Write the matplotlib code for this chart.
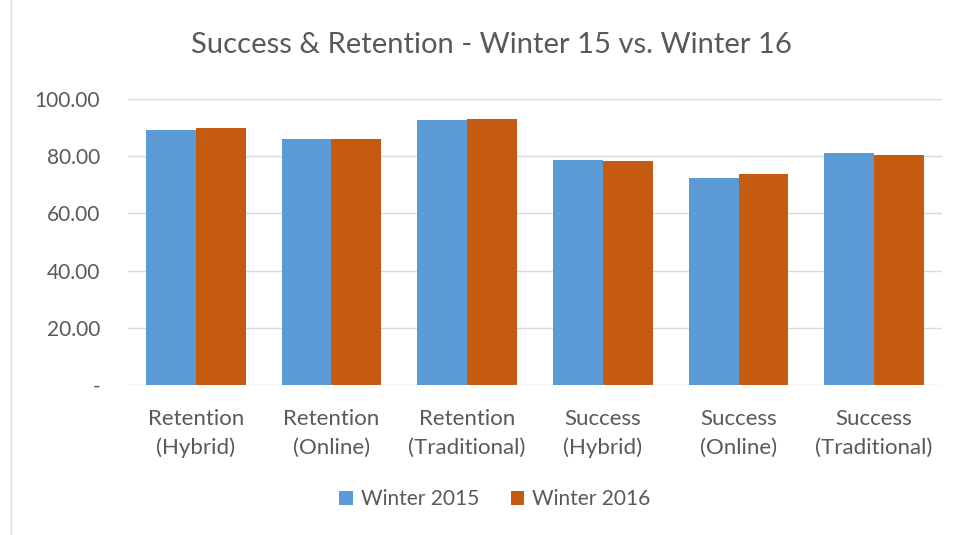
import numpy as np
import matplotlib.pyplot as plt
from matplotlib.patches import Rectangle

categories = ["Retention\n(Hybrid)", "Retention\n(Online)", "Retention\n(Traditional)",
              "Success\n(Hybrid)", "Success\n(Online)", "Success\n(Traditional)"]
winter_2015 = [89.2, 86.0, 92.7, 78.7, 72.4, 81.1]
winter_2016 = [89.9, 86.0, 93.0, 78.3, 73.8, 80.4]
y_ticks = [0, 20, 40, 60, 80, 100]
y_labels = ["-", "20.00", "40.00", "60.00", "80.00", "100.00"]

plt.rcParams['font.family'] = ['Lato', 'DejaVu Sans']
text_color = "#595959"

fig = plt.figure(figsize=(9.56, 5.35), dpi=100)
ax = fig.add_axes([128 / 956, 1 - 385 / 535, (942 - 128) / 956, (385 - 99) / 535])

x = np.arange(len(categories))
w = 0.368
ax.bar(x - w / 2, winter_2015, w, color="#5B9BD5", label="Winter 2015", zorder=3)
ax.bar(x + w / 2, winter_2016, w, color="#C55A11", label="Winter 2016", zorder=3)

ax.set_xlim(-0.5, len(categories) - 0.5)
ax.set_ylim(0, 100)
ax.set_yticks(y_ticks)
ax.set_yticklabels(y_labels, fontsize=15, color=text_color)
ax.set_xticks(x)
ax.set_xticklabels(categories, fontsize=16, color=text_color, linespacing=1.55)
ax.tick_params(axis='both', length=0)
ax.tick_params(axis='y', pad=20)
ax.tick_params(axis='x', pad=17)
ax.grid(axis='y', color="#D9D9D9", linewidth=1, zorder=0)
for s in ax.spines.values():
    s.set_visible(False)

fig.text(491 / 956, 1 - 45 / 535, "Success & Retention - Winter 15 vs. Winter 16",
         ha='center', va='center', fontsize=21, color=text_color)

ax.legend(loc='center', bbox_to_anchor=(495 / 956, 1 - 499 / 535), bbox_transform=fig.transFigure,
          ncol=2, frameon=False, fontsize=15, labelcolor=text_color,
          handlelength=0.65, handleheight=0.65, handletextpad=0.4, columnspacing=1.5)

fig.patches.append(Rectangle((11 / 956, -0.01), 1.1, 1.1, transform=fig.transFigure,
                             fill=False, edgecolor="#D9D9D9", linewidth=1))

fig.savefig("out.png", dpi=100)
